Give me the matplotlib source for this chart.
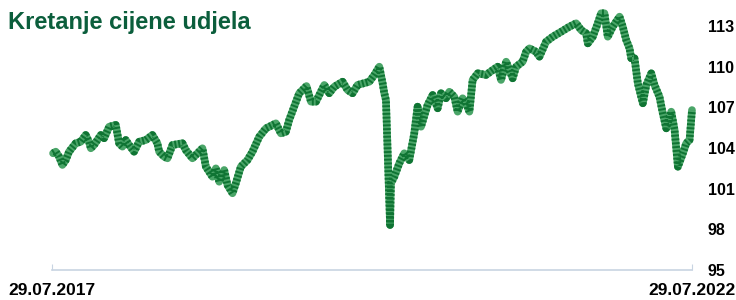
import matplotlib.pyplot as plt

# time axis in years since 29.07.2017, price of fund unit
years = [0.008, 0.029, 0.055, 0.081, 0.107, 0.133, 0.185, 0.224, 0.263, 0.289,
         0.303, 0.328, 0.381, 0.407, 0.446, 0.498, 0.524, 0.550, 0.576, 0.602,
         0.641, 0.680, 0.733, 0.784, 0.823, 0.837, 0.876, 0.902, 0.941, 1.019,
         1.045, 1.097, 1.149, 1.175, 1.202, 1.228, 1.253, 1.280, 1.306, 1.345,
         1.371, 1.410, 1.436, 1.475, 1.527, 1.566, 1.619, 1.671, 1.749, 1.788,
         1.827, 1.853, 1.892, 1.931, 1.988, 2.023, 2.062, 2.127, 2.166, 2.205,
         2.270, 2.309, 2.348, 2.387, 2.479, 2.518, 2.557, 2.583, 2.596, 2.609,
         2.622, 2.635, 2.641, 2.648, 2.674, 2.713, 2.752, 2.791, 2.830, 2.856,
         2.883, 2.934, 2.974, 3.013, 3.039, 3.078, 3.104, 3.143, 3.169, 3.208,
         3.235, 3.261, 3.286, 3.326, 3.391, 3.443, 3.482, 3.508, 3.548, 3.599,
         3.626, 3.677, 3.704, 3.730, 3.782, 3.808, 3.860, 3.912, 3.978, 4.042,
         4.095, 4.134, 4.173, 4.186, 4.225, 4.264, 4.290, 4.316, 4.342, 4.381,
         4.434, 4.459, 4.486, 4.512, 4.525, 4.551, 4.577, 4.616, 4.643, 4.682,
         4.707, 4.746, 4.772, 4.799, 4.838, 4.864, 4.890, 4.929, 4.955, 4.981,
         5.000]
price = [103.61, 103.73, 103.36, 102.75, 103.11, 103.73, 104.35, 104.46, 104.96, 104.46,
         103.98, 104.22, 104.96, 104.72, 105.57, 105.70, 104.35, 104.10, 104.59, 104.22,
         103.73, 104.46, 104.59, 104.96, 104.35, 103.73, 103.36, 103.24, 104.22, 104.35,
         103.85, 103.24, 103.73, 103.98, 102.62, 102.25, 101.88, 102.50, 101.51, 102.38,
         101.27, 100.66, 101.40, 102.62, 103.11, 103.73, 104.83, 105.45, 105.82, 105.08,
         105.20, 106.07, 107.05, 108.04, 108.57, 107.42, 107.42, 108.65, 108.04, 108.52,
         108.89, 108.28, 108.04, 108.65, 108.89, 109.39, 110.00, 108.77, 108.04, 107.54,
         103.85, 100.16, 98.32, 101.40, 101.88, 102.87, 103.61, 103.11, 105.08, 107.05,
         105.57, 107.17, 107.91, 106.93, 108.04, 107.67, 108.15, 107.78, 106.68, 107.67,
         107.30, 106.68, 109.02, 109.51, 109.39, 109.75, 110.00, 109.02, 110.37, 109.14,
         110.00, 110.37, 111.10, 111.35, 111.10, 110.74, 111.84, 112.21, 112.58, 112.95,
         113.20, 112.70, 112.46, 111.72, 112.21, 113.20, 113.94, 113.94, 112.21, 112.95,
         113.69, 112.95, 111.97, 111.35, 110.62, 110.62, 108.77, 107.30, 108.65, 109.51,
         108.65, 107.78, 106.56, 105.45, 106.68, 105.33, 102.62, 103.61, 104.35, 104.59,
         106.80]

y_ticks = [95, 98, 101, 104, 107, 110, 113]
x_ticks = [0, 5]
x_labels = ["29.07.2017", "29.07.2022"]
title = "Kretanje cijene udjela"

plt.rcParams['font.family'] = ['Liberation Sans', 'DejaVu Sans']

fig = plt.figure(figsize=(7.36, 3.0), dpi=100)
ax = fig.add_axes([0.0707, 0.1, 0.8695, 0.8133])

# thick textured line: light base + dark dashed overlay
ax.plot(years, price, color='#4aa568', lw=5.5, solid_joinstyle='round',
        solid_capstyle='round', zorder=2, clip_on=False)
ax.plot(years, price, color='#0f7433', lw=5.5, linestyle=(0, (0.25, 0.25)),
        dash_joinstyle='round', zorder=3, clip_on=False)

ax.set_xlim(0, 5)
ax.set_ylim(95, 113)
ax.set_yticks(y_ticks)
ax.yaxis.tick_right()
ax.tick_params(axis='y', length=0, pad=11.5, labelsize=11.5)
for lbl in ax.get_yticklabels():
    lbl.set_fontweight('bold')

ax.set_xticks(x_ticks)
ax.set_xticklabels([])
ax.tick_params(axis='x', direction='in', length=4, color='#c8d4e2')

# date labels under the ends of the axis
fig.text(0.011, 0.008, x_labels[0], fontsize=12.5, fontweight='bold',
         ha='left', va='bottom')
fig.text(0.9995, 0.008, x_labels[1], fontsize=12.5, fontweight='bold',
         ha='right', va='bottom')

for side in ['top', 'right', 'left']:
    ax.spines[side].set_visible(False)
ax.spines['bottom'].set_color('#c8d4e2')
ax.spines['bottom'].set_linewidth(1.2)

fig.text(0.011, 0.925, title, fontsize=17, fontweight='bold', color='#0b5e3c',
         va='center', ha='left')

fig.savefig('out.png', dpi=100)
